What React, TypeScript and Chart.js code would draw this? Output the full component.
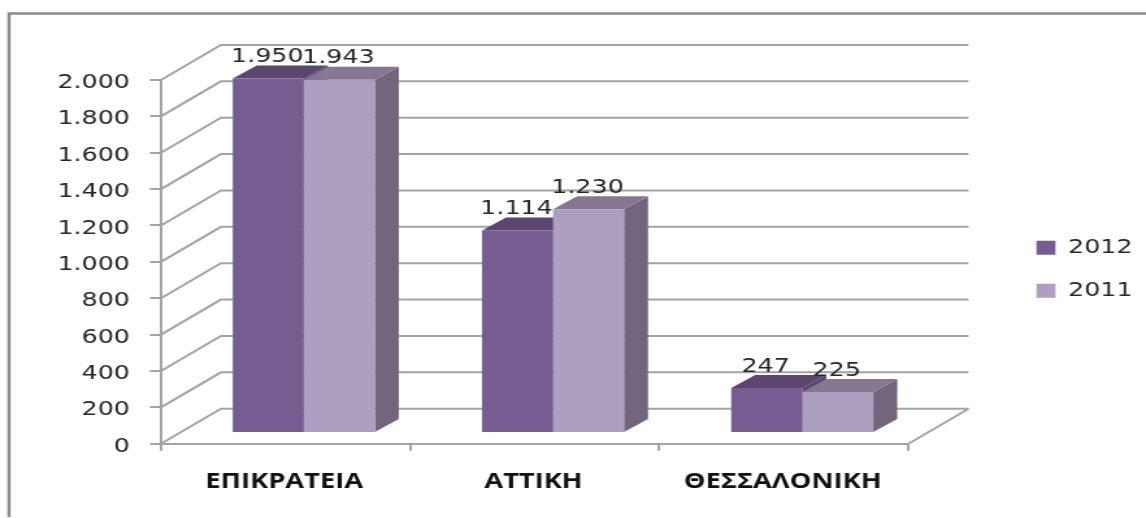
import React, { useEffect, useRef } from "react";
import { Chart, registerables } from "chart.js";

Chart.register(...registerables);

const categories = ["ΕΠΙΚΡΑΤΕΙΑ", "ΑΤΤΙΚΗ", "ΘΕΣΣΑΛΟΝΙΚΗ"];
const series2012 = [1950, 1114, 247];
const series2011 = [1943, 1230, 225];
const seriesNames = ["2012", "2011"];

const W = 1146;
const H = 518;
const SX = 1.3;
const LW = Math.round(W / SX);
const X = (px: number) => px / SX;

const frontColors = ["#775c92", "#ae9ebf"];
const topColors = ["#5b4670", "#857790"];
const sideColors = ["#5b4670", "#72667e"];
const lineColor = "#a3a3a3";
const textColor = "#262626";
const legendGap = 23.5;

const fmt = (v: number) => {
  const s = String(Math.round(v));
  return s.length > 3 ? s.slice(0, -3) + "." + s.slice(-3) : s;
};

const floor = { dx: X(60), dy: -35 };
const barShift = { dx: X(18.3), dy: -10.7 };
const barDepth = { dx: X(24), dy: -13 };

const threeD = {
  id: "threeD",
  beforeDraw(chart: any) {
    const { ctx } = chart;
    ctx.save();
    ctx.strokeStyle = "#8c8c8c";
    ctx.lineWidth = 2.5;
    ctx.beginPath();
    ctx.moveTo(X(9), 517);
    ctx.lineTo(X(9), 13.5);
    ctx.lineTo(LW, 13.5);
    ctx.stroke();
    ctx.restore();
  },
  afterLayout(chart: any) {
    const l = chart.legend;
    l.left = X(1037) - legendGap;
    l.right = l.left + l.width;
    l.top = 214.5;
    l.bottom = l.top + l.height;
    l.adjustHitBoxes();
  },
  beforeDatasetsDraw(chart: any) {
    const { ctx, chartArea: a, scales } = chart;
    ctx.save();
    ctx.strokeStyle = lineColor;
    ctx.lineWidth = 2;
    scales.y.ticks.forEach((t: any) => {
      const y = scales.y.getPixelForValue(t.value);
      ctx.beginPath();
      ctx.moveTo(a.left, y);
      ctx.lineTo(a.left + floor.dx, y + floor.dy);
      ctx.lineTo(a.right + floor.dx, y + floor.dy);
      ctx.stroke();
    });
    const y0 = scales.y.getPixelForValue(0);
    ctx.beginPath();
    ctx.moveTo(a.right, y0);
    ctx.lineTo(a.right + floor.dx, y0 + floor.dy);
    ctx.stroke();
    ctx.translate(barShift.dx, barShift.dy);
    chart.data.datasets.forEach((_: any, i: number) => {
      chart.getDatasetMeta(i).data.forEach((el: any) => {
        const p = el.getProps(["x", "y", "base", "width"], true);
        const l = p.x - p.width / 2;
        const r = p.x + p.width / 2;
        ctx.fillStyle = sideColors[i];
        ctx.beginPath();
        ctx.moveTo(r, p.y);
        ctx.lineTo(r + barDepth.dx, p.y + barDepth.dy);
        ctx.lineTo(r + barDepth.dx, p.base + barDepth.dy);
        ctx.lineTo(r, p.base);
        ctx.closePath();
        ctx.fill();
        ctx.fillStyle = topColors[i];
        ctx.beginPath();
        ctx.moveTo(l, p.y);
        ctx.lineTo(l + barDepth.dx, p.y + barDepth.dy);
        ctx.lineTo(r + barDepth.dx, p.y + barDepth.dy);
        ctx.lineTo(r, p.y);
        ctx.closePath();
        ctx.fill();
      });
    });
    ctx.restore();
  },
  beforeDatasetDraw(chart: any) {
    chart.ctx.save();
    chart.ctx.translate(barShift.dx, barShift.dy);
  },
  afterDatasetDraw(chart: any) {
    chart.ctx.restore();
  },
  afterDatasetsDraw(chart: any) {
    const { ctx } = chart;
    ctx.save();
    ctx.fillStyle = textColor;
    ctx.font = '19.5px "DejaVu Sans"';
    ctx.textAlign = "center";
    ctx.textBaseline = "alphabetic";
    chart.data.datasets.forEach((ds: any, i: number) => {
      chart.getDatasetMeta(i).data.forEach((el: any, j: number) => {
        const p = el.getProps(["x", "y"], true);
        ctx.fillText(fmt(ds.data[j]), p.x + barShift.dx - X(1), p.y + barShift.dy - 16.5);
      });
    });
    ctx.restore();
  },
};

export default function App() {
  const ref = useRef<HTMLCanvasElement>(null);
  useEffect(() => {
    document.body.style.margin = "0";
    const chart = new Chart(ref.current as HTMLCanvasElement, {
      type: "bar",
      data: {
        labels: categories,
        datasets: [
          { label: seriesNames[0], data: series2012, backgroundColor: frontColors[0], clip: false },
          { label: seriesNames[1], data: series2011, backgroundColor: frontColors[1], clip: false },
        ] as any,
      },
      plugins: [threeD],
      options: {
        animation: false,
        responsive: false,
        devicePixelRatio: 1,
        layout: { padding: { top: 80, left: 0, bottom: 0, right: LW - X(909) } },
        datasets: { bar: { categoryPercentage: 0.57, barPercentage: 1, borderWidth: 0 } },
        plugins: {
          title: { display: false },
          tooltip: { enabled: false },
          legend: {
            position: "chartArea",
            align: "start",
            labels: {
              boxWidth: X(19),
              boxHeight: 14,
              padding: legendGap,
              color: textColor,
              font: { family: '"DejaVu Sans"', size: 19.5 },
            },
          },
        },
        scales: {
          x: {
            afterFit: (s: any) => { s.height = 74.3; },
            grid: { drawOnChartArea: false, drawTicks: true, tickLength: 7, color: lineColor, lineWidth: 2 },
            border: { color: lineColor, width: 2 },
            ticks: {
              color: "#111",
              padding: 19,
              labelOffset: -1,
              maxRotation: 0,
              font: { family: '"Open Sans"', size: 21, weight: "bold" },
            },
          },
          y: {
            min: 0,
            max: 2000,
            afterFit: (s: any) => { s.width = X(161); },
            grid: { drawOnChartArea: false, drawTicks: true, tickLength: X(11), color: lineColor, lineWidth: 2 },
            border: { color: lineColor, width: 2 },
            ticks: {
              stepSize: 200,
              color: textColor,
              padding: X(20),
              labelOffset: 3,
              font: { family: '"DejaVu Sans"', size: 19.5 },
              callback: (v: any) => fmt(Number(v)),
            },
          },
        },
      } as any,
    });
    return () => chart.destroy();
  }, []);
  return (
    <div style={{ width: W, height: H, overflow: "hidden", position: "relative", background: "#fff" }}>
      <canvas
        ref={ref}
        width={LW}
        height={H}
        style={{ display: "block", transformOrigin: "0 0", transform: `scale(${W / LW},1)`, filter: "blur(0.6px)" }}
      />
    </div>
  );
}
